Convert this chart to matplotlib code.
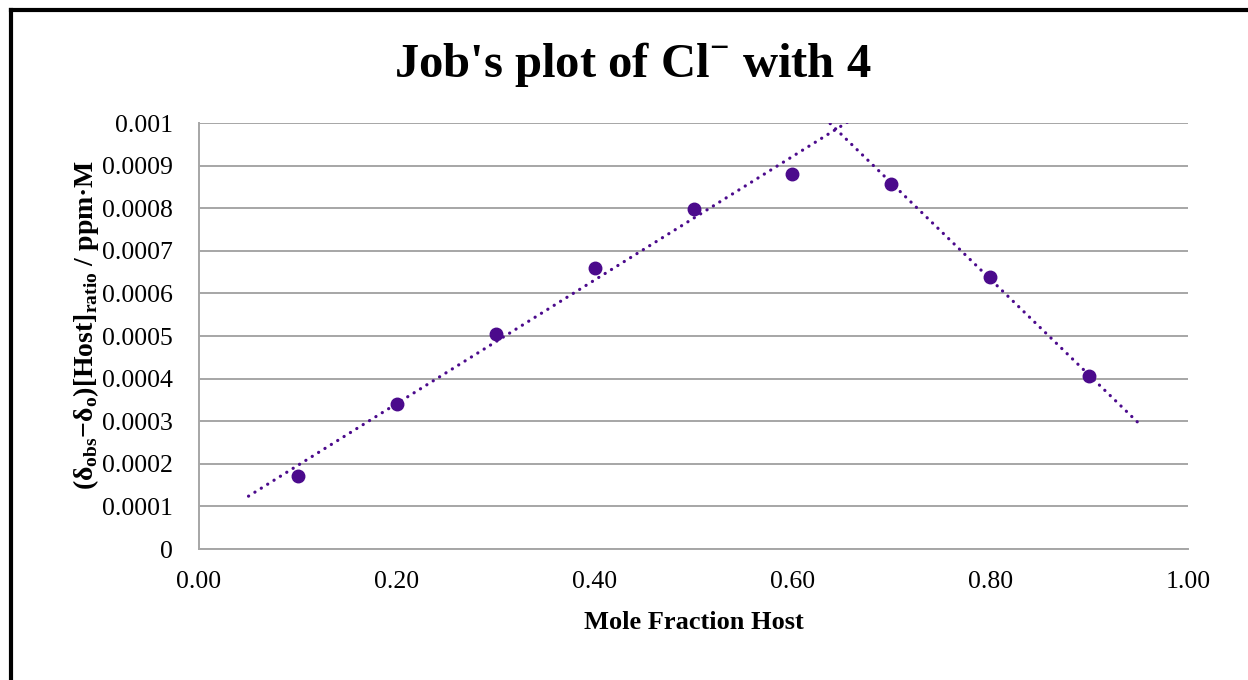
import matplotlib
matplotlib.use('Agg')
import matplotlib.pyplot as plt
from matplotlib.lines import Line2D
import numpy as np

# data
mole_fraction = [0.1, 0.2, 0.3, 0.4, 0.5, 0.6, 0.7, 0.8, 0.9]
response = [0.000171, 0.000340, 0.000505, 0.000660, 0.000798, 0.000880,
            0.000857, 0.000638, 0.000406]
x_ticks = [0.0, 0.2, 0.4, 0.6, 0.8, 1.0]
y_ticks = [0, 0.0001, 0.0002, 0.0003, 0.0004, 0.0005, 0.0006, 0.0007,
           0.0008, 0.0009, 0.001]
y_tick_labels = ['0', '0.0001', '0.0002', '0.0003', '0.0004', '0.0005',
                 '0.0006', '0.0007', '0.0008', '0.0009', '0.001']

plt.rcParams['font.family'] = ['Liberation Serif', 'DejaVu Serif']
plt.rcParams['mathtext.fontset'] = 'custom'
plt.rcParams['mathtext.rm'] = 'Liberation Serif:bold'
plt.rcParams['mathtext.bf'] = 'Liberation Serif:bold'

purple = '#4B0A8C'

fig = plt.figure(figsize=(12.48, 6.8), dpi=100)
ax = fig.add_axes([0.1595, 0.1926, 0.7925, 0.6265])

x = np.array(mole_fraction)
y = np.array(response)

# linear trendlines, rising and falling parts
p1 = np.polyfit(x[:6], y[:6], 1)
p2 = np.polyfit(x[6:], y[6:], 1)
xl = np.array([0.05, 0.7])
xr = np.array([0.6, 0.95])
dots = (0, (0.05, 2.3))
ax.plot(xl, np.polyval(p1, xl), linestyle=dots, dash_capstyle='round',
        color=purple, linewidth=2.3, zorder=3)
ax.plot(xr, np.polyval(p2, xr), linestyle=dots, dash_capstyle='round',
        color=purple, linewidth=2.3, zorder=3)

ax.plot(x, y, 'o', color=purple, markersize=9, zorder=4)

ax.set_xlim(0, 1)
ax.set_ylim(0, 0.001)
ax.set_xticks(x_ticks)
ax.set_xticklabels(['%.2f' % t for t in x_ticks])
ax.set_yticks(y_ticks)
ax.set_yticklabels(y_tick_labels)
ax.tick_params(length=0, labelsize=18.5)
ax.tick_params(axis='y', pad=19)
ax.tick_params(axis='x', pad=16)

ax.grid(axis='y', color='#A6A6A6', linewidth=1.4)
ax.set_axisbelow(True)
for s in ['top', 'right']:
    ax.spines[s].set_visible(False)
for s in ['left', 'bottom']:
    ax.spines[s].set_color('#A6A6A6')
    ax.spines[s].set_linewidth(1.4)

ax.set_xlabel('Mole Fraction Host', fontsize=19, fontweight='bold', labelpad=13)
ax.set_ylabel(r'(δ$_{\mathrm{obs}}$−δ$_{\mathrm{o}}$)[Host]$_{\mathrm{ratio}}$ / ppm·M',
              fontsize=20, fontweight='bold')
ax.yaxis.set_label_coords(-0.099, 0.525)

fig.text(0.507, 0.905, "Job's plot of Cl$^{\\mathrm{-}}$ with 4", fontsize=35,
         fontweight='bold', ha='center', va='center')

# chart border (left and top edges visible)
fig.add_artist(Line2D([0.0085, 0.0085], [-0.1, 0.985], color='black', linewidth=3,
                      transform=fig.transFigure))
fig.add_artist(Line2D([0.0085, 1.1], [0.985, 0.985], color='black', linewidth=3,
                      transform=fig.transFigure))

plt.savefig('out.png', dpi=100)
